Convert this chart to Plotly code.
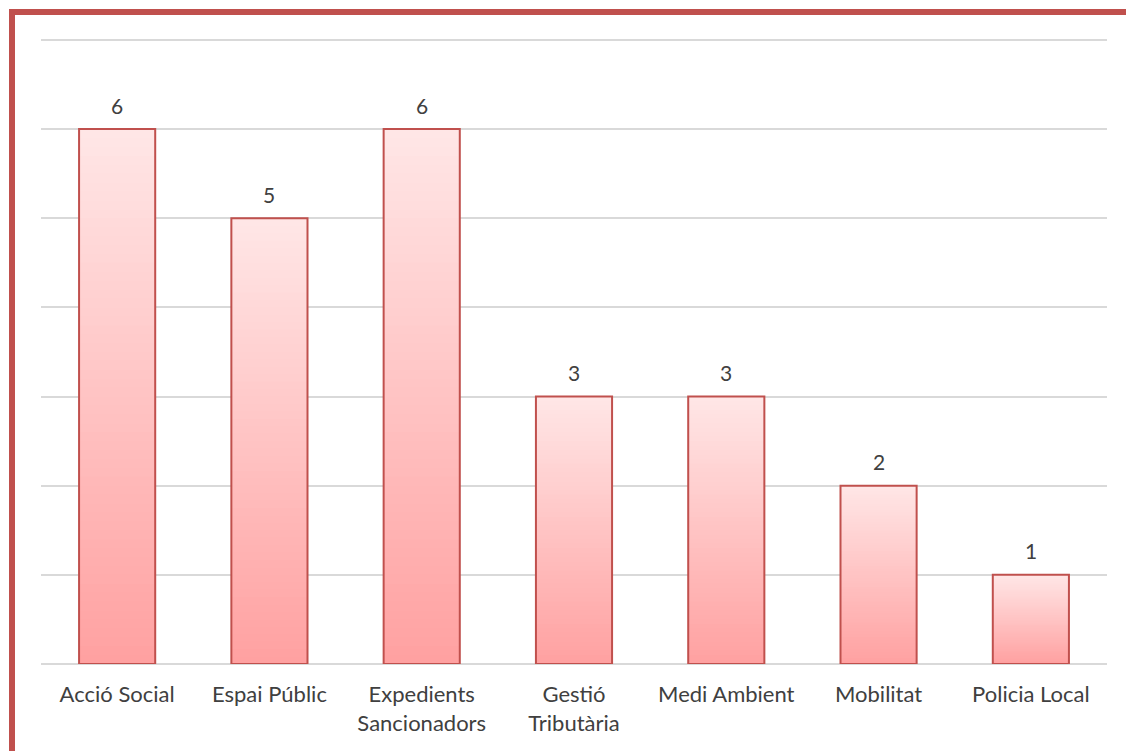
import plotly.graph_objects as go

# Data
categories = ["Acció Social", "Espai Públic", "Expedients<br>Sancionadors", "Gestió<br>Tributària",
              "Medi Ambient", "Mobilitat", "Policia Local"]
values = [6, 5, 6, 3, 3, 2, 1]
y_max = 7
y_top = 7.1  # a little headroom so the gridline at y_max is drawn

# Styling
W, H = 1126, 751
M_L, M_R, M_B = 41, 19, 87
GRID_TOP_PX = 40  # pixel row of the y_max gridline
M_T = round((H - M_B) - (H - M_B - GRID_TOP_PX) * y_top / y_max)
FONT = "Lato, Open Sans, sans-serif"
FONT_SIZE = 21
TICK_SIZE = 22
TEXT_COLOR = "#404040"
OUTLINE = "#C0504D"
TOP_RGB = (255, 230, 230)
BOTTOM_RGB = (255, 160, 160)
BAR_WIDTH = 0.5
STEPS = 60


def blend(f):
    r, g, b = (round(BOTTOM_RGB[i] + (TOP_RGB[i] - BOTTOM_RGB[i]) * f) for i in range(3))
    return f"rgb({r},{g},{b})"


fig = go.Figure()

# Vertical gradient fill: overlapping bars from the base, each shorter one darker,
# so every bar shades from light at its top to deeper pink at its base.
for k in range(STEPS):
    frac = 1 - k / STEPS
    fig.add_trace(go.Bar(
        x=categories, y=[v * frac for v in values], width=BAR_WIDTH,
        marker=dict(color=blend(frac), line=dict(width=0)),
        hoverinfo="skip", showlegend=False,
    ))

# Outline
fig.add_trace(go.Bar(
    x=categories, y=values, width=BAR_WIDTH,
    marker=dict(color="rgba(0,0,0,0)", line=dict(color=OUTLINE, width=2)),
    showlegend=False,
))

# Value labels above each bar
for c, v in zip(categories, values):
    fig.add_annotation(x=c, y=v, text=str(v), showarrow=False, yanchor="middle", yshift=24,
                       font=dict(family=FONT, size=FONT_SIZE, color=TEXT_COLOR))

plot_w = W - M_L - M_R
plot_h = H - M_T - M_B


def px_x(p):
    return (p - M_L) / plot_w


def px_y(p):
    return (H - M_B - p) / plot_h


# Frame around the chart area
fig.add_shape(type="rect", xref="paper", yref="paper",
              x0=px_x(12), x1=px_x(W + 40), y0=px_y(H + 40), y1=px_y(12),
              line=dict(color=OUTLINE, width=6), fillcolor="rgba(0,0,0,0)", layer="above")

fig.update_layout(
    width=W, height=H, barmode="overlay",
    margin=dict(l=M_L, r=M_R, t=M_T, b=M_B),
    paper_bgcolor="white", plot_bgcolor="white",
    font=dict(family=FONT, size=FONT_SIZE, color=TEXT_COLOR),
    xaxis=dict(showgrid=False, showline=False, ticks="",
               tickfont=dict(size=TICK_SIZE, color=TEXT_COLOR), ticklabelstandoff=15),
    yaxis=dict(range=[0, y_top], dtick=1, showticklabels=False, showgrid=True,
               gridcolor="#D9D9D9", gridwidth=2, zeroline=True, zerolinecolor="#D9D9D9",
               zerolinewidth=2, showline=False, ticks=""),
)

fig.write_html("out.html")
